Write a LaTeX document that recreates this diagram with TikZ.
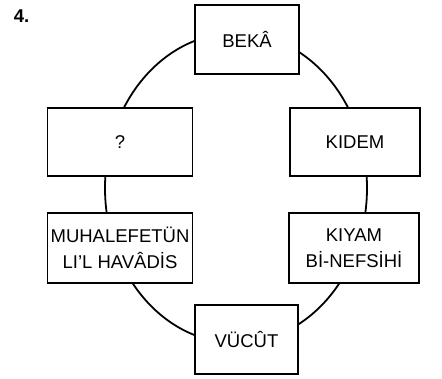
\documentclass[tikz,border=0pt]{standalone}
\usepackage{fontspec}
\setmainfont{Liberation Sans}
\usetikzlibrary{shapes.geometric}

\begin{document}
\begin{tikzpicture}[x=1pt, y=-1pt, line width=1.8pt,
    itembox/.style={rectangle, draw, fill=white, align=center, inner sep=0pt, font=\fontsize{18.5}{26.5}\selectfont}]
    \useasboundingbox (0,0) rectangle (442,378);

    % Ring behind the boxes
    \node[ellipse, draw, minimum width=262pt, minimum height=310pt, inner sep=0pt] (ring) at (236,188) {};

    % Boxes on the ring
    \node[itembox, minimum width=104pt, minimum height=69pt] (beka) at (247,39.5) {BEKÂ};
    \node[itembox, minimum width=145pt, minimum height=68pt] (unknown) at (120,142) {?};
    \node[itembox, minimum width=130pt, minimum height=68pt] (kidem) at (355,142) {KIDEM};
    \node[itembox, minimum width=145pt, minimum height=70pt] (muhalefet) at (120,248) {MUHALEFETÜN\\LI’L HAVÂDİS};
    \node[itembox, minimum width=130pt, minimum height=70pt] (kiyam) at (354,248) {KIYAM\\Bİ-NEFSİHİ};
    \node[itembox, minimum width=103pt, minimum height=69pt] (vucut) at (246.5,339.5) {VÜCÛT};

    % Question number
    \node[anchor=base west, inner sep=0pt, font=\bfseries\fontsize{18.5}{20}\selectfont] (num) at (13,22) {4.};
\end{tikzpicture}
\end{document}
